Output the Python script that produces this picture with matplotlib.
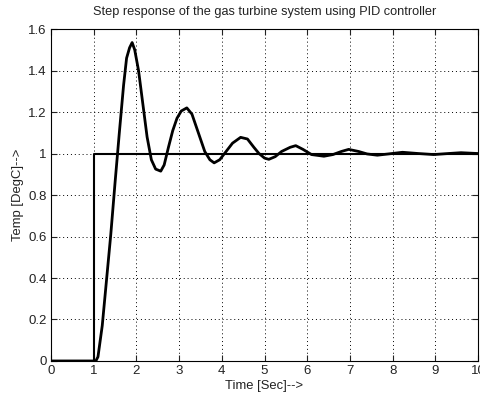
import matplotlib
matplotlib.use('Agg')
import matplotlib.pyplot as plt
import numpy as np

# step input (delayed 1 s)
step_t = [0, 1, 1, 10]
step_v = [0, 0, 1, 1]

# PID closed-loop response
resp_t = [0, 1.0, 1.05, 1.1, 1.2, 1.3, 1.4, 1.5, 1.6, 1.7, 1.77, 1.84, 1.9,
          1.96, 2.05, 2.15, 2.25, 2.35, 2.45, 2.57, 2.65, 2.75, 2.85, 2.95, 3.05,
          3.18, 3.3, 3.45, 3.6, 3.72, 3.82, 3.95, 4.1, 4.25, 4.44, 4.6, 4.75,
          4.87, 5.0, 5.1, 5.25, 5.4, 5.6, 5.73, 5.9, 6.1, 6.39, 6.6, 6.8,
          6.97, 7.2, 7.4, 7.64, 7.9, 8.23, 8.6, 8.96, 9.3, 9.6, 10.0]
resp_v = [0, 0, 0.0, 0.02, 0.17, 0.39, 0.61, 0.86, 1.1, 1.33, 1.46, 1.51, 1.535,
          1.5, 1.4, 1.24, 1.08, 0.97, 0.925, 0.915, 0.945, 1.03, 1.11, 1.17, 1.205,
          1.22, 1.19, 1.1, 1.01, 0.97, 0.955, 0.97, 1.01, 1.05, 1.078, 1.07, 1.03,
          1.0, 0.978, 0.972, 0.985, 1.01, 1.03, 1.038, 1.02, 0.995, 0.987, 0.995, 1.01,
          1.02, 1.01, 0.998, 0.992, 0.998, 1.006, 1.0, 0.995, 1.0, 1.004, 1.0]

plt.rcParams['font.family'] = ['Liberation Sans', 'DejaVu Sans']

fig = plt.figure(figsize=(4.81, 3.98), dpi=100)
ax = fig.add_axes([0.106, 0.093, 0.888, 0.834])

ax.plot(step_t, step_v, color='black', lw=1.5)
ax.plot(resp_t, resp_v, color='black', lw=2.0)

ax.set_xlim(0, 10)
ax.set_ylim(0, 1.6)
ax.set_xticks(np.arange(0, 11, 1))
ax.set_yticks(np.arange(0, 1.61, 0.2))
ax.set_yticklabels(['0', '0.2', '0.4', '0.6', '0.8', '1', '1.2', '1.4', '1.6'])
ax.tick_params(direction='in', top=True, right=True, length=4, width=0.8,
               labelsize=9.5, pad=3, colors='#222222')
ax.grid(True, linestyle=(0, (1, 3)), color='black', lw=0.7)
for s in ax.spines.values():
    s.set_linewidth(0.8)

ax.set_title('Step response of the gas turbine system using PID controller',
             fontsize=9.2, pad=10, color='#222222')
ax.set_xlabel('Time [Sec]-->', fontsize=9.4, labelpad=2, color='#222222')
ax.set_ylabel('Temp [DegC]-->', fontsize=9.4, labelpad=3, color='#222222')

fig.savefig('out.png', dpi=100)
